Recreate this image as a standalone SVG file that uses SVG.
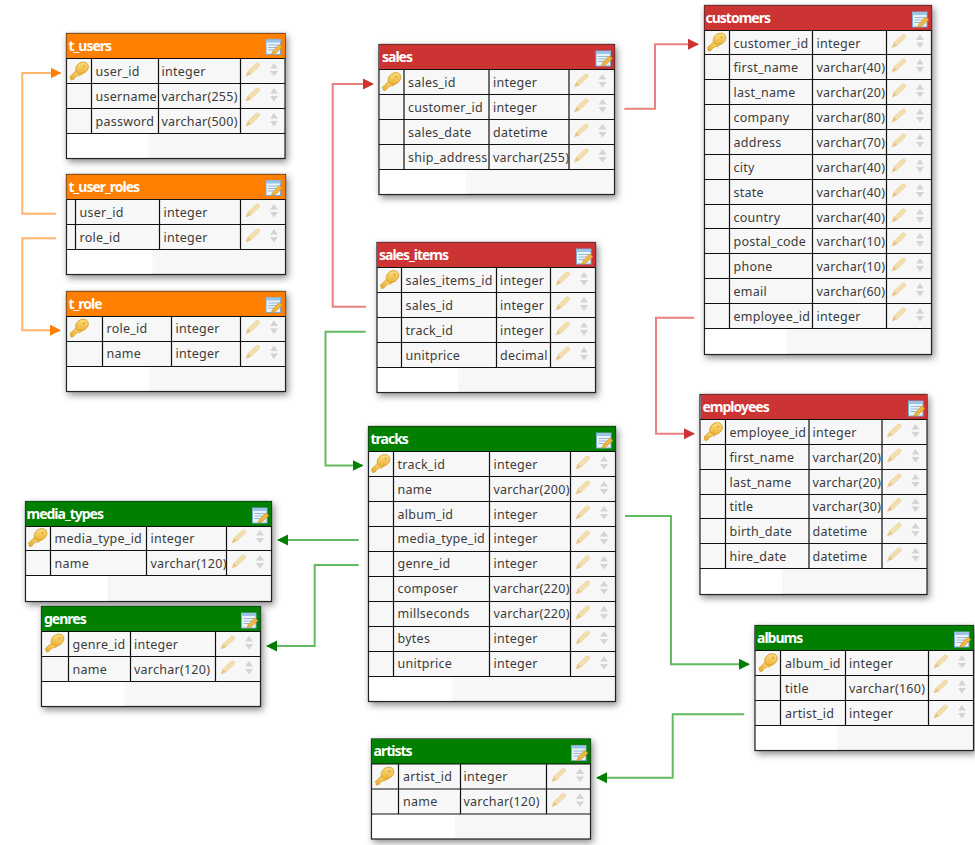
<svg xmlns="http://www.w3.org/2000/svg" width="975" height="845" viewBox="0 0 975 845">
<style>
text{font-family:"Noto Sans","Liberation Sans",sans-serif}
.c{font-size:12.5px;fill:#3c3c3c;letter-spacing:.25px;transform:translateY(-1px)}
.h{font-size:14px;font-weight:700;fill:#fff;letter-spacing:-1px;transform:translate(-1px,-1px)}
.b{fill:#f7f7f7;stroke:#222;stroke-width:1.2;filter:url(#s)}
.f{fill:#fff}
.l{fill:none;stroke:#111;stroke-width:1.2}
.o{fill:#ff8000}.r{fill:#cc3333}.g{fill:#007f00}
.w{fill:none;stroke-width:2}
.wo{stroke:#ffb46e}.wr{stroke:#e98080}.wg{stroke:#62bb62}
</style>
<defs>
<filter id="s" x="-10%" y="-10%" width="125%" height="125%"><feDropShadow dx="2" dy="3" stdDeviation="3.500" flood-color="#000" flood-opacity=".45"/></filter>
<linearGradient id="kg" x1="0" y1="1" x2="1" y2="0"><stop offset="0" stop-color="#e8a828"/><stop offset="1" stop-color="#ffe88e"/></linearGradient>
<marker id="mo" markerWidth="12" markerHeight="12" refX="10" refY="6" orient="auto" markerUnits="userSpaceOnUse"><path d="M0 .5L11 6L0 11.500Z" fill="#ff8000"/></marker>
<marker id="mr" markerWidth="12" markerHeight="12" refX="10" refY="6" orient="auto" markerUnits="userSpaceOnUse"><path d="M0 .5L11 6L0 11.500Z" fill="#cc3333"/></marker>
<marker id="mg" markerWidth="12" markerHeight="12" refX="10" refY="6" orient="auto" markerUnits="userSpaceOnUse"><path d="M0 .5L11 6L0 11.500Z" fill="#007f00"/></marker>
<g id="k"><path d="M.5 15L8.500 7.500L13 12L10 14.500L9 13.500L7.500 15L6.500 14.500L4 18L1.500 18.500Z" fill="url(#kg)" stroke="#cf981f" stroke-width=".7"/><ellipse cx="12.500" cy="6.500" rx="6.800" ry="5.400" transform="rotate(-35 12.500 6.500)" fill="url(#kg)" stroke="#cf981f" stroke-width=".7"/><circle cx="14.500" cy="4.800" r="1.100" fill="#d9a530"/></g>
<g id="r"><path d="M5.500 17.500L7.500 12.500L16 4.500Q18 4 19 5.500Q19.500 7 18.500 8L10.500 15.500Z" fill="#f3dfae" stroke="#e8d09a" stroke-width=".6"/><path d="M5.500 17.500L7.500 12.500L10.500 15.500Z" fill="#e6c48c"/><path d="M29.500 10L33.500 4.500L37.500 10Z M29.500 12.500L33.500 18L37.500 12.500Z" fill="#d4d4d4"/></g>
<g id="n"><rect x="0" y=".5" width="14.500" height="15" fill="#eaf3fb" stroke="#7fa8d0"/><rect x="0" y=".5" width="14.500" height="3" fill="#9cc3e6"/><path d="M2 6H12.500M2 8.500H12.500M2 11H8" stroke="#88a8c8" stroke-width=".8"/><path d="M5 16L7 12L13 5.500L16.500 8L10 14Z" fill="#f0b840" stroke="#c78a20" stroke-width=".6"/></g>
</defs>

<g id="connectors">
<path class="w wo" marker-end="url(#mo)" d="M56 213.700H22.300V73H60.500"/>
<path class="w wo" marker-end="url(#mo)" d="M56 238.300H22.300V330.300H60"/>
<path class="w wr" marker-end="url(#mr)" d="M366 306.700H332.700V84H373"/>
<path class="w wr" marker-end="url(#mr)" d="M624.300 108.700H655V44.300H698"/>
<path class="w wr" marker-end="url(#mr)" d="M694.300 317.700H656V433.700H694"/>
<path class="w wg" marker-end="url(#mg)" d="M365.700 331.700H325.500V465.500H362.500"/>
<path class="w wg" marker-end="url(#mg)" d="M358.700 540H278"/>
<path class="w wg" marker-end="url(#mg)" d="M358.700 565H314.700V646H267"/>
<path class="w wg" marker-end="url(#mg)" d="M625 516H671V664.300H749"/>
<path class="w wg" marker-end="url(#mg)" d="M744.300 714.300H672.700V777.700H597"/>
</g>

<g id="t_users" transform="translate(66.500,33.500)"><rect class="b" width="218.500" height="125"/><rect class="f" x="1" y="100.500" width="81" height="23.500"/><rect class="o" width="218.500" height="25"/>
<path class="l" d="M0 25H218.500M0 50H218.500M0 75H218.500M0 100H218.500M25 25V100M92 25V100M174 25V100"/>
<text class="h" x="3" y="18">t_users</text><use href="#n" x="199.500" y="5.500"/><use href="#k" x="3" y="28"/>
<text class="c" x="29" y="43">user_id</text><text class="c" x="95" y="43">integer</text><use href="#r" x="174" y="25"/>
<text class="c" x="29" y="68">username</text><text class="c" x="95" y="68">varchar(255)</text><use href="#r" x="174" y="50"/>
<text class="c" x="29" y="93">password</text><text class="c" x="95" y="93">varchar(500)</text><use href="#r" x="174" y="75"/></g>

<g id="t_user_roles" transform="translate(66.500,174.500)"><rect class="b" width="219" height="100"/><rect class="f" x="1" y="75.500" width="85" height="23.500"/><rect class="o" width="219" height="25"/>
<path class="l" d="M0 25H219M0 50H219M0 75H219M9 25V75M93 25V75M174 25V75"/>
<text class="h" x="3" y="18">t_user_roles</text><use href="#n" x="199.500" y="5.500"/>
<text class="c" x="13" y="43">user_id</text><text class="c" x="97" y="43">integer</text><use href="#r" x="174" y="25"/>
<text class="c" x="13" y="68">role_id</text><text class="c" x="97" y="68">integer</text><use href="#r" x="174" y="50"/></g>

<g id="t_role" transform="translate(66.500,291.500)"><rect class="b" width="219" height="100"/><rect class="f" x="1" y="75.500" width="82" height="23.500"/><rect class="o" width="219" height="25"/>
<path class="l" d="M0 25H219M0 50H219M0 75H219M36 25V75M105 25V75M174 25V75"/>
<text class="h" x="3" y="18">t_role</text><use href="#n" x="199.500" y="5.500"/><use href="#k" x="3" y="27"/>
<text class="c" x="40" y="42">role_id</text><text class="c" x="109" y="42">integer</text><use href="#r" x="174" y="24.500"/>
<text class="c" x="40" y="67">name</text><text class="c" x="109" y="67">integer</text><use href="#r" x="174" y="49.500"/></g>

<g id="sales" transform="translate(379,44.500)"><rect class="b" width="235.500" height="150"/><rect class="f" x="1" y="125.500" width="86" height="23.500"/><rect class="r" width="235.500" height="25"/>
<path class="l" d="M0 25H235.500M0 50H235.500M0 75H235.500M0 100H235.500M0 125H235.500M25 25V125M110 25V125M190 25V125"/>
<text class="h" x="4" y="18">sales</text><use href="#n" x="217" y="6"/><use href="#k" x="3" y="27.500"/>
<text class="c" x="29" y="43">sales_id</text><text class="c" x="114" y="43">integer</text><use href="#r" x="190" y="25"/>
<text class="c" x="29" y="68">customer_id</text><text class="c" x="114" y="68">integer</text><use href="#r" x="190" y="50"/>
<text class="c" x="29" y="93">sales_date</text><text class="c" x="114" y="93">datetime</text><use href="#r" x="190" y="75"/>
<text class="c" x="29" y="118">ship_address</text><text class="c" x="114" y="118">varchar(255)</text><use href="#r" x="190" y="100"/></g>

<g id="sales_items" transform="translate(377,242.500)"><rect class="b" width="218.500" height="150"/><rect class="f" x="1" y="125.500" width="80" height="23.500"/><rect class="r" width="218.500" height="25"/>
<path class="l" d="M0 25H218.500M0 50H218.500M0 75H218.500M0 100H218.500M0 125H218.500M24.500 25V125M119.500 25V125M173.500 25V125"/>
<text class="h" x="3" y="18">sales_items</text><use href="#n" x="199.500" y="6"/><use href="#k" x="3" y="27.500"/>
<text class="c" x="28.500" y="43">sales_items_id</text><text class="c" x="123" y="43">integer</text><use href="#r" x="173.500" y="25"/>
<text class="c" x="28.500" y="68">sales_id</text><text class="c" x="123" y="68">integer</text><use href="#r" x="173.500" y="50"/>
<text class="c" x="28.500" y="93">track_id</text><text class="c" x="123" y="93">integer</text><use href="#r" x="173.500" y="75"/>
<text class="c" x="28.500" y="118">unitprice</text><text class="c" x="123" y="118">decimal</text><use href="#r" x="173.500" y="100"/></g>

<g id="tracks" transform="translate(368.500,426.500)"><rect class="b" width="247" height="275"/><rect class="f" x="1" y="250.500" width="83" height="23.500"/><rect class="g" width="247" height="25"/>
<path class="l" d="M0 25H247M0 50H247M0 75H247M0 100H247M0 125H247M0 150H247M0 175H247M0 200H247M0 225H247M0 250H247M25 25V250M121 25V250M202 25V250"/>
<text class="h" x="3" y="18">tracks</text><use href="#n" x="228" y="6"/><use href="#k" x="2.500" y="27.500"/>
<text class="c" x="29" y="43">track_id</text><text class="c" x="125" y="43">integer</text><use href="#r" x="202" y="25"/>
<text class="c" x="29" y="68">name</text><text class="c" x="125" y="68">varchar(200)</text><use href="#r" x="202" y="50"/>
<text class="c" x="29" y="93">album_id</text><text class="c" x="125" y="93">integer</text><use href="#r" x="202" y="75"/>
<text class="c" x="29" y="117">media_type_id</text><text class="c" x="125" y="117">integer</text><use href="#r" x="202" y="100"/>
<text class="c" x="29" y="142">genre_id</text><text class="c" x="125" y="142">integer</text><use href="#r" x="202" y="125"/>
<text class="c" x="29" y="167">composer</text><text class="c" x="125" y="167">varchar(220)</text><use href="#r" x="202" y="150"/>
<text class="c" x="29" y="192">millseconds</text><text class="c" x="125" y="192">varchar(220)</text><use href="#r" x="202" y="175"/>
<text class="c" x="29" y="217">bytes</text><text class="c" x="125" y="217">integer</text><use href="#r" x="202" y="200"/>
<text class="c" x="29" y="242">unitprice</text><text class="c" x="125" y="242">integer</text><use href="#r" x="202" y="225"/></g>

<g id="customers" transform="translate(704.500,5.500)"><rect class="b" width="227" height="349"/><rect class="f" x="1" y="323.500" width="81" height="24.500"/><rect class="r" width="227" height="25"/>
<path class="l" d="M0 25H227M0 49H227M0 74H227M0 99H227M0 124H227M0 149H227M0 174H227M0 199H227M0 223H227M0 248H227M0 273H227M0 298H227M0 323H227M25 25V323M108 25V323M182 25V323"/>
<text class="h" x="2" y="18">customers</text><use href="#n" x="208" y="6"/><use href="#k" x="2.500" y="27"/>
<text class="c" x="29" y="43">customer_id</text><text class="c" x="112" y="43">integer</text><use href="#r" x="182" y="24.500"/>
<text class="c" x="29" y="67">first_name</text><text class="c" x="112" y="67">varchar(40)</text><use href="#r" x="182" y="49"/>
<text class="c" x="29" y="92">last_name</text><text class="c" x="112" y="92">varchar(20)</text><use href="#r" x="182" y="74"/>
<text class="c" x="29" y="117">company</text><text class="c" x="112" y="117">varchar(80)</text><use href="#r" x="182" y="99"/>
<text class="c" x="29" y="142">address</text><text class="c" x="112" y="142">varchar(70)</text><use href="#r" x="182" y="124"/>
<text class="c" x="29" y="167">city</text><text class="c" x="112" y="167">varchar(40)</text><use href="#r" x="182" y="149"/>
<text class="c" x="29" y="192">state</text><text class="c" x="112" y="192">varchar(40)</text><use href="#r" x="182" y="174"/>
<text class="c" x="29" y="217">country</text><text class="c" x="112" y="217">varchar(40)</text><use href="#r" x="182" y="199"/>
<text class="c" x="29" y="241">postal_code</text><text class="c" x="112" y="241">varchar(10)</text><use href="#r" x="182" y="223"/>
<text class="c" x="29" y="266">phone</text><text class="c" x="112" y="266">varchar(10)</text><use href="#r" x="182" y="248"/>
<text class="c" x="29" y="291">email</text><text class="c" x="112" y="291">varchar(60)</text><use href="#r" x="182" y="273"/>
<text class="c" x="29" y="316">employee_id</text><text class="c" x="112" y="316">integer</text><use href="#r" x="182" y="298"/></g>

<g id="employees" transform="translate(700,394.500)"><rect class="b" width="227" height="200"/><rect class="f" x="1" y="174.500" width="81" height="24.500"/><rect class="r" x="1" width="226" height="25"/>
<path class="l" d="M0 25H227M0 50H227M0 75H227M0 100H227M0 124H227M0 149H227M0 174H227M25.500 25V174M109 25V174M182 25V174"/>
<text class="h" x="3.500" y="18">employees</text><use href="#n" x="208.500" y="6"/><use href="#k" x="3.500" y="27.500"/>
<text class="c" x="29.500" y="43">employee_id</text><text class="c" x="112.500" y="43">integer</text><use href="#r" x="182" y="25"/>
<text class="c" x="29.500" y="68">first_name</text><text class="c" x="112.500" y="68">varchar(20)</text><use href="#r" x="182" y="50"/>
<text class="c" x="29.500" y="93">last_name</text><text class="c" x="112.500" y="93">varchar(20)</text><use href="#r" x="182" y="75"/>
<text class="c" x="29.500" y="117">title</text><text class="c" x="112.500" y="117">varchar(30)</text><use href="#r" x="182" y="99.500"/>
<text class="c" x="29.500" y="142">birth_date</text><text class="c" x="112.500" y="142">datetime</text><use href="#r" x="182" y="124"/>
<text class="c" x="29.500" y="167">hire_date</text><text class="c" x="112.500" y="167">datetime</text><use href="#r" x="182" y="149"/></g>

<g id="media_types" transform="translate(25.500,501.500)"><rect class="b" width="246" height="100"/><rect class="f" x="1" y="74.500" width="81" height="24.500"/><rect class="g" width="246" height="25"/>
<path class="l" d="M0 25H246M0 49H246M0 74H246M25 25V74M121 25V74M201 25V74"/>
<text class="h" x="2" y="18">media_types</text><use href="#n" x="227" y="6"/><use href="#k" x="2.500" y="26.500"/>
<text class="c" x="29" y="42">media_type_id</text><text class="c" x="125" y="42">integer</text><use href="#r" x="201" y="24"/>
<text class="c" x="29" y="67">name</text><text class="c" x="125" y="67">varchar(120)</text><use href="#r" x="201" y="49"/></g>

<g id="genres" transform="translate(41.500,606.500)"><rect class="b" width="219" height="100"/><rect class="f" x="1" y="75.500" width="82" height="23.500"/><rect class="g" width="219" height="25"/>
<path class="l" d="M0 25H219M0 50H219M0 75H219M27 25V75M89 25V75M174 25V75"/>
<text class="h" x="3.500" y="18">genres</text><use href="#n" x="200" y="6"/><use href="#k" x="3.500" y="27"/>
<text class="c" x="31" y="43">genre_id</text><text class="c" x="92.500" y="43">integer</text><use href="#r" x="174" y="25"/>
<text class="c" x="31" y="68">name</text><text class="c" x="92.500" y="68">varchar(120)</text><use href="#r" x="174" y="50"/></g>

<g id="albums" transform="translate(755,625.500)"><rect class="b" width="218.500" height="125"/><rect class="f" x="1" y="100.500" width="81" height="23.500"/><rect class="g" width="218.500" height="25"/>
<path class="l" d="M0 25H218.500M0 50H218.500M0 75H218.500M0 100H218.500M25.500 25V100M90.500 25V100M173.500 25V100"/>
<text class="h" x="3" y="18">albums</text><use href="#n" x="199.500" y="6"/><use href="#k" x="3.500" y="27.500"/>
<text class="c" x="30" y="43">album_id</text><text class="c" x="94" y="43">integer</text><use href="#r" x="173.500" y="25"/>
<text class="c" x="30" y="68">title</text><text class="c" x="94" y="68">varchar(160)</text><use href="#r" x="173.500" y="50"/>
<text class="c" x="30" y="93">artist_id</text><text class="c" x="94" y="93">integer</text><use href="#r" x="173.500" y="75"/></g>

<g id="artists" transform="translate(371.500,739)"><rect class="b" width="219" height="100"/><rect class="f" x="1" y="75.500" width="82" height="23.500"/><rect class="g" width="219" height="25"/>
<path class="l" d="M0 25H219M0 50H219M0 75H219M27 25V75M89 25V75M175 25V75"/>
<text class="h" x="3" y="18">artists</text><use href="#n" x="200" y="6"/><use href="#k" x="3.500" y="27.500"/>
<text class="c" x="31.500" y="43">artist_id</text><text class="c" x="92" y="43">integer</text><use href="#r" x="175" y="25"/>
<text class="c" x="31.500" y="68">name</text><text class="c" x="92" y="68">varchar(120)</text><use href="#r" x="175" y="50"/></g>
</svg>
